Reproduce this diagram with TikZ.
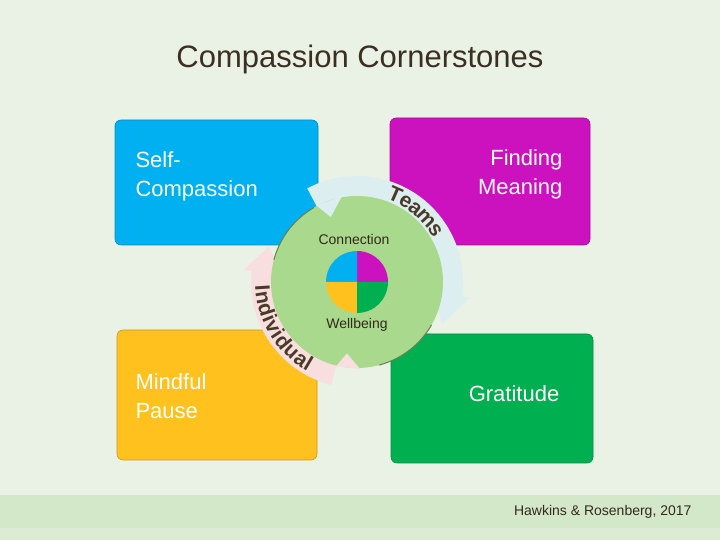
\documentclass[tikz,border=0pt]{standalone}
\usepackage{fontspec}
\setmainfont{Liberation Sans}
\usetikzlibrary{decorations.text,calc}
\definecolor{bg}{HTML}{EAF2E6}
\definecolor{cblue}{HTML}{00B0F0}
\definecolor{cmag}{HTML}{CC12BE}
\definecolor{cyel}{HTML}{FFC11E}
\definecolor{cgrn}{HTML}{00B050}
\definecolor{ring}{HTML}{A9D98C}
\definecolor{arcb}{HTML}{DDEEF1}
\definecolor{arcp}{HTML}{F8DEDE}
\definecolor{txt}{HTML}{4A3B28}
\definecolor{band}{HTML}{D3E8C8}
\tikzset{box/.style={draw=#1!80!black, fill=#1, rounded corners=6pt, line width=0.6pt},
 lbl/.style={font=\fontsize{22}{29}\selectfont, text=#1, align=left}}
\begin{document}
\begin{tikzpicture}[x=1pt,y=1pt]
\fill[bg] (0,0) rectangle (720,540);
\useasboundingbox (0,0) rectangle (720,540);
\fill[band] (0,12) rectangle (720,45);
\fill[band!60!bg] (0,0) rectangle (720,12);
\node[font=\fontsize{31}{36}\selectfont, text=txt!80!black] (title) at (360,481) {Compassion Cornerstones};
% boxes
\draw[box=cblue] (115,295) rectangle (318,420);
\draw[box=cmag] (390,295) rectangle (590,422);
\draw[box=cyel] (117,80) rectangle (317,210);
\draw[box=cgrn] (391,77) rectangle (593,206);
\node[lbl=white, anchor=north west] (self) at (132,392) {Self-\\Compassion};
\node[lbl=white, align=right, anchor=north east] (fm) at (566,394) {Finding\\Meaning};
\node[lbl=white, anchor=north west] (mp) at (132,170) {Mindful\\Pause};
\node[lbl=white] (gr) at (514,146) {Gratitude};
\coordinate (c) at (357,258);
% blue arc
\fill[arcb] ($(c)+(118:106)$) arc (118:-8:106) -- ($(c)+(-8:114)$) -- ($(c)+(-26:95)$) -- ($(c)+(-8:76)$) -- ($(c)+(-8:84)$) arc (-8:118:84) -- cycle;
% pink arc
\fill[arcp] ($(c)+(256:106)$) arc (256:174:106) -- ($(c)+(174:114)$) -- ($(c)+(158:95)$) -- ($(c)+(174:76)$) -- ($(c)+(174:84)$) arc (174:256:84) -- cycle;
% green disk with notches
\fill[ring] (c) circle (86);
\draw[ring!60!black, line width=1pt] ($(c)+(165:86)$) arc (165:120:86);
\draw[ring!60!black, line width=1pt] ($(c)+(-30:86)$) arc (-30:-75:86);
\fill[arcb] ($(c)+(118:87)$) -- ($(c)+(112:70)$) -- ($(c)+(100:87)$) -- cycle;
\fill[arcp] ($(c)+(256:87)$) -- ($(c)+(262:72)$) -- ($(c)+(272:87)$) -- cycle;
% texts on arcs
\path[decorate, decoration={text along path, text align=center, raise=-7pt,
 text={|\bfseries\fontsize{21}{21}\selectfont\color{txt}|Teams}}]
 ($(c)+(82:95)$) arc (82:18:95);
\path[decorate, decoration={text along path, text align=center, raise=-7pt,
 text={|\bfseries\fontsize{21}{21}\selectfont\color{txt}|Individual}}]
 ($(c)+(155:95)$) arc (155:268:95);
\node[font=\fontsize{14}{16}\selectfont, text=txt!70!black] (con) at (354,300) {Connection};
\node[font=\fontsize{14}{16}\selectfont, text=txt!70!black] (wb) at (357,215) {Wellbeing};
% pie
\fill[cmag] (c) -- ++(0:31) arc (0:90:31) -- cycle;
\fill[cblue] (c) -- ++(90:31) arc (90:180:31) -- cycle;
\fill[cyel] (c) -- ++(180:31) arc (180:270:31) -- cycle;
\fill[cgrn] (c) -- ++(270:31) arc (270:360:31) -- cycle;
\node[font=\fontsize{14}{16}\selectfont, text=txt!70!black, anchor=east] (cite) at (695,28) {Hawkins \& Rosenberg, 2017};
\end{tikzpicture}
\end{document}
